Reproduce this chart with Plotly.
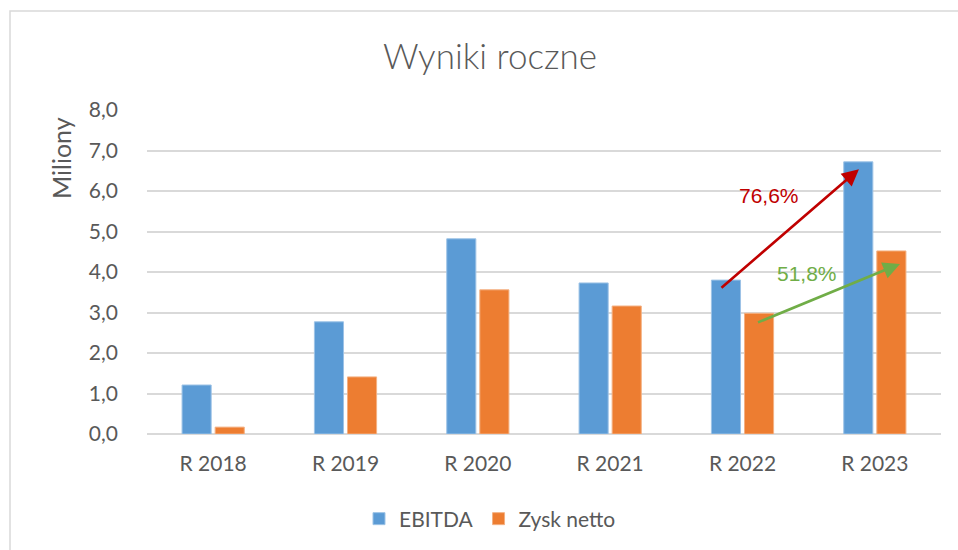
import plotly.graph_objects as go

categories = ["R 2018", "R 2019", "R 2020", "R 2021", "R 2022", "R 2023"]
ebitda = [1.21, 2.77, 4.82, 3.73, 3.80, 6.72]
zysk = [0.17, 1.41, 3.56, 3.16, 2.98, 4.52]
y_ticks = [0, 1, 2, 3, 4, 5, 6, 7, 8]

W, H = 958, 550
L, R, T, B = 147, 17, 110, 116
pw, ph = W - L - R, H - T - B

def px_x(x):
    return (x - L) / pw

def px_y(y):
    return (H - B - y) / ph

font_main = "Lato, 'Open Sans', sans-serif"
grey = "#595959"

fig = go.Figure()
fig.add_trace(go.Bar(x=categories, y=ebitda, name="EBITDA",
                     marker=dict(color="#5B9BD5", line=dict(color="#9DC3E6", width=1))))
fig.add_trace(go.Bar(x=categories, y=zysk, name="Zysk netto",
                     marker=dict(color="#ED7D31", line=dict(color="#F4B183", width=1))))

# arrows (category index positions)
arrows = [
    dict(x0=4 - 0.17, y0=3.58, x1=5 - 0.12, y1=6.54, color="#C00000"),
    dict(x0=4 + 0.106, y0=2.74, x1=5 + 0.19, y1=4.20, color="#70AD47"),
]
for a in arrows:
    fig.add_annotation(x=a["x1"], y=a["y1"], ax=a["x0"], ay=a["y0"],
                       xref="x", yref="y", axref="x", ayref="y",
                       showarrow=True, arrowhead=2, arrowsize=1.3, arrowwidth=2.6,
                       arrowcolor=a["color"], text="")

fig.add_annotation(x=4.2, y=5.9, xref="x", yref="y", text="76,6%", showarrow=False,
                   font=dict(family="Liberation Sans, Arial", size=21, color="#C00000"))
fig.add_annotation(x=4.49, y=3.97, xref="x", yref="y", text="51,8%", showarrow=False,
                   font=dict(family="Liberation Sans, Arial", size=21, color="#70AD47"))

# y axis title
fig.add_annotation(x=px_x(61), y=px_y(158), xref="paper", yref="paper", text="Miliony",
                   xanchor="center", yanchor="middle",
                   textangle=-90, showarrow=False,
                   font=dict(family=font_main, size=25, color=grey))

# chart border
fig.add_shape(type="path", xref="paper", yref="paper",
              path=f"M {px_x(10)},{px_y(H+5)} L {px_x(10)},{px_y(11)} L {px_x(W+5)},{px_y(11)}",
              line=dict(color="#D9D9D9", width=1.5))

fig.update_layout(
    width=W, height=H,
    margin=dict(l=L, r=R, t=T, b=B, autoexpand=False),
    paper_bgcolor="white", plot_bgcolor="white",
    separators=", ",
    title=dict(text="Wyniki roczne", x=490 / W, xanchor="center", xref="container",
               y=1 - 57 / H, yanchor="middle",
               font=dict(family=font_main, size=35, color=grey, weight=300)),
    barmode="group", bargap=0.5, bargroupgap=0.12,
    xaxis=dict(showline=False, ticks="", tickfont=dict(family=font_main, size=21, color=grey),
               ticklabelstandoff=15),
    yaxis=dict(range=[0, 8], tickvals=y_ticks, tickformat=".1f",
               showgrid=True, gridcolor="#D9D9D9", gridwidth=1.5,
               zeroline=True, zerolinecolor="#D9D9D9", zerolinewidth=1.5,
               tickfont=dict(family=font_main, size=21, color=grey), ticklabelstandoff=28),
    legend=dict(orientation="h", x=px_x(490), xanchor="center", y=px_y(519), yanchor="middle",
                font=dict(family=font_main, size=21, color=grey), itemwidth=30,
                traceorder="normal"),
    showlegend=True,
)

fig.write_html("out.html")
